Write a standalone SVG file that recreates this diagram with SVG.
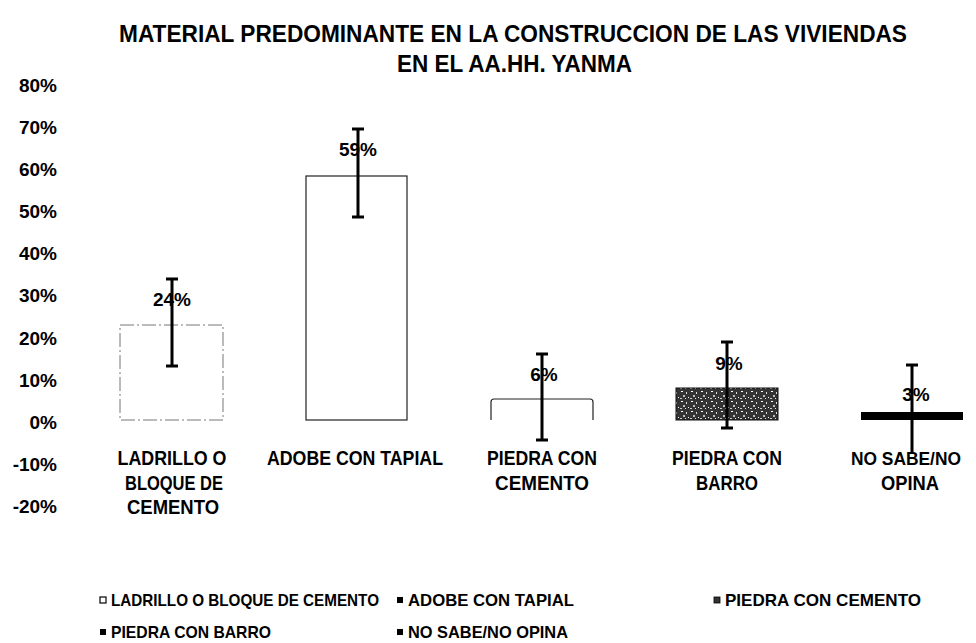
<svg xmlns="http://www.w3.org/2000/svg" width="976" height="643" viewBox="0 0 976 643">
<defs>
<pattern id="speck" width="10" height="10" patternUnits="userSpaceOnUse">
<rect width="10" height="10" fill="#333"/>
<rect x="1" y="1" width="2" height="1" fill="#fff"/>
<rect x="6" y="2" width="1" height="2" fill="#ddd"/>
<rect x="3" y="5" width="2" height="2" fill="#bbb"/>
<rect x="8" y="7" width="1" height="1" fill="#fff"/>
<rect x="0" y="8" width="2" height="1" fill="#ccc"/>
<rect x="5" y="8" width="1" height="1" fill="#eee"/>
</pattern>
</defs>
<style>
text{font-family:"Liberation Sans",Arial,sans-serif;font-weight:bold;fill:#000}
.title{font-size:24px}
.ax{font-size:19px;text-anchor:end}
.cat{font-size:20px;text-anchor:middle}
.val{font-size:19px;text-anchor:middle}
.leg{font-size:17px}
.err{stroke:#000;stroke-width:3;fill:none}
</style>
<rect width="976" height="643" fill="#fff"/>
<g id="title">
<text class="title" x="119" y="42" textLength="788" lengthAdjust="spacingAndGlyphs">MATERIAL PREDOMINANTE EN LA CONSTRUCCION DE LAS VIVIENDAS</text>
<text class="title" x="397" y="72" textLength="235" lengthAdjust="spacingAndGlyphs">EN EL AA.HH. YANMA</text>
</g>
<g id="axis">
<text class="ax" x="57" y="92">80%</text>
<text class="ax" x="57" y="134">70%</text>
<text class="ax" x="57" y="176">60%</text>
<text class="ax" x="57" y="218">50%</text>
<text class="ax" x="57" y="260">40%</text>
<text class="ax" x="57" y="302">30%</text>
<text class="ax" x="57" y="345">20%</text>
<text class="ax" x="57" y="387">10%</text>
<text class="ax" x="57" y="429">0%</text>
<text class="ax" x="57" y="471">-10%</text>
<text class="ax" x="57" y="513">-20%</text>
</g>
<g id="bar-ladrillo">
<rect x="120" y="325" width="103" height="95" fill="#fff" stroke="#777" stroke-width="1" stroke-dasharray="14 3 2 3"/>
<text class="val" x="172" y="306">24%</text>
</g>
<g id="bar-adobe">
<rect x="306" y="176" width="101" height="244" fill="#fff" stroke="#222" stroke-width="1.2"/>
<text class="val" x="358" y="156">59%</text>
</g>
<g id="bar-piedra-cemento">
<path d="M491 420 V402 Q491 399 494 399 H590 Q593 399 593 402 V420" fill="#fff" stroke="#222" stroke-width="1.2"/>
<text class="val" x="544" y="381">6%</text>
</g>
<g id="bar-piedra-barro">
<rect x="676" y="388" width="102" height="32" fill="url(#speck)" stroke="#111" stroke-width="1"/>
<text class="val" x="729" y="370">9%</text>
</g>
<g id="bar-nosabe">
<rect x="861" y="412" width="102" height="8" fill="#000"/>
<text class="val" x="916" y="401">3%</text>
</g>
<g id="connectors">
<path class="err" d="M172 279 V366 M166 279 H178 M166 366 H178"/>
<path class="err" d="M358 129 V217 M352 129 H364 M352 217 H364"/>
<path class="err" d="M542 354 V440 M536 354 H548 M536 440 H548"/>
<path class="err" d="M727 342 V428 M721 342 H733 M721 428 H733"/>
<path class="err" d="M912 365 V454 M906 365 H918"/>
</g>
<g id="categories">
<text class="cat" x="172" y="465" textLength="109" lengthAdjust="spacingAndGlyphs">LADRILLO O</text>
<text class="cat" x="174" y="490" textLength="98" lengthAdjust="spacingAndGlyphs">BLOQUE DE</text>
<text class="cat" x="173" y="514" textLength="92" lengthAdjust="spacingAndGlyphs">CEMENTO</text>
<text class="cat" x="355" y="465" textLength="176" lengthAdjust="spacingAndGlyphs">ADOBE CON TAPIAL</text>
<text class="cat" x="542" y="465" textLength="110" lengthAdjust="spacingAndGlyphs">PIEDRA CON</text>
<text class="cat" x="542" y="490" textLength="94" lengthAdjust="spacingAndGlyphs">CEMENTO</text>
<text class="cat" x="727" y="465" textLength="110" lengthAdjust="spacingAndGlyphs">PIEDRA CON</text>
<text class="cat" x="727" y="490" textLength="62" lengthAdjust="spacingAndGlyphs">BARRO</text>
<text class="cat" x="906" y="465" style="font-size:19px" textLength="110" lengthAdjust="spacingAndGlyphs">NO SABE/NO</text>
<text class="cat" x="910" y="490" textLength="58" lengthAdjust="spacingAndGlyphs">OPINA</text>
</g>
<g id="legend">
<rect x="100" y="597" width="6" height="6" fill="#fff" stroke="#000" stroke-width="1.2"/>
<text class="leg" x="111" y="606" textLength="268" lengthAdjust="spacingAndGlyphs">LADRILLO O BLOQUE DE CEMENTO</text>
<rect x="397" y="597" width="6" height="6" fill="#000"/>
<text class="leg" x="408" y="606" textLength="166" lengthAdjust="spacingAndGlyphs">ADOBE CON TAPIAL</text>
<rect x="714" y="597" width="6" height="6" fill="#333" stroke="#000" stroke-width="0.8"/>
<text class="leg" x="725" y="606" textLength="196" lengthAdjust="spacingAndGlyphs">PIEDRA CON CEMENTO</text>
<rect x="100" y="629" width="6" height="6" fill="#000"/>
<text class="leg" x="111" y="638" textLength="160" lengthAdjust="spacingAndGlyphs">PIEDRA CON BARRO</text>
<rect x="397" y="629" width="6" height="6" fill="#000"/>
<text class="leg" x="408" y="638" textLength="160" lengthAdjust="spacingAndGlyphs">NO SABE/NO OPINA</text>
</g>
</svg>
